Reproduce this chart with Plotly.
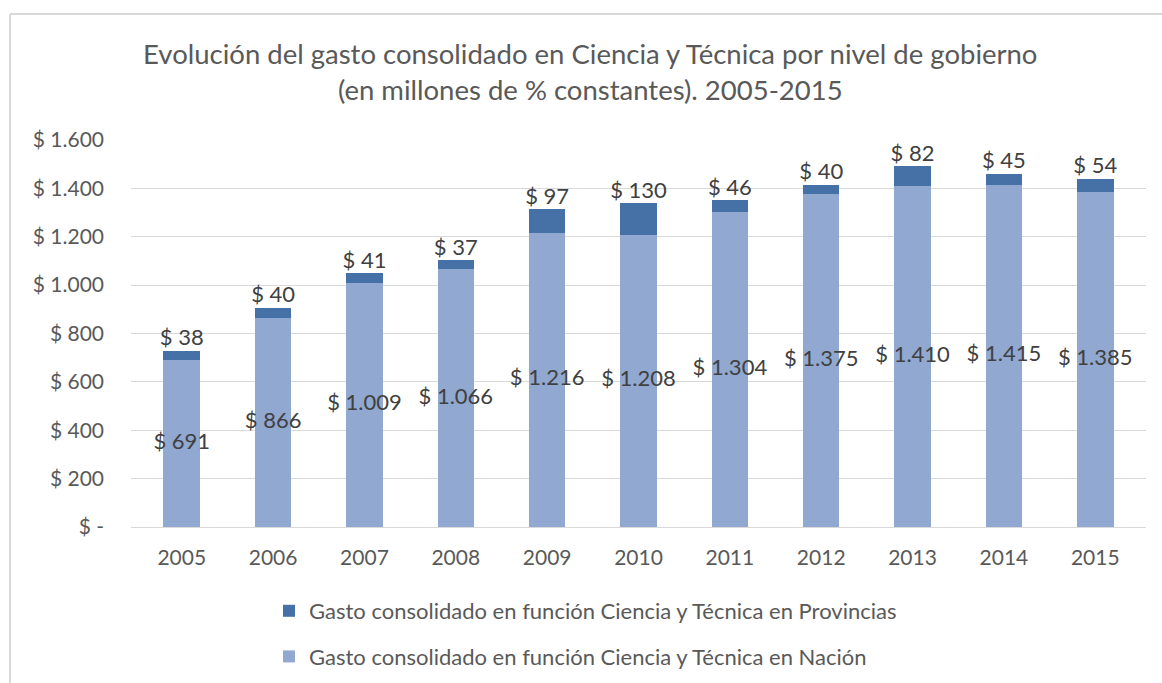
import plotly.graph_objects as go

years = ["2005", "2006", "2007", "2008", "2009", "2010", "2011", "2012", "2013", "2014", "2015"]
nacion = [691, 866, 1009, 1066, 1216, 1208, 1304, 1375, 1410, 1415, 1385]
provincias = [38, 40, 41, 37, 97, 130, 46, 40, 82, 45, 54]
y_tickvals = [0, 200, 400, 600, 800, 1000, 1200, 1400, 1600]
y_ticktext = ["$ -", "$ 200", "$ 400", "$ 600", "$ 800", "$ 1.000", "$ 1.200", "$ 1.400", "$ 1.600"]

name_prov = "Gasto consolidado en función Ciencia y Técnica en Provincias"
name_nac = "Gasto consolidado en función Ciencia y Técnica en Nación"

def fmt(v):
    return "$ " + f"{v:,}".replace(",", ".")

FONT = "Lato"
C_NAC = "#91A8D1"
C_PROV = "#4571A6"

totals = [a + b for a, b in zip(nacion, provincias)]

fig = go.Figure()
fig.add_trace(go.Bar(x=years, y=nacion, name=name_nac, marker=dict(color=C_NAC, line=dict(width=0)),
                     legendgroup="n", legendrank=2, hoverinfo="y"))
fig.add_trace(go.Bar(x=years, y=provincias, name=name_prov, marker=dict(color=C_PROV, line=dict(width=0)),
                     legendgroup="p", legendrank=1, hoverinfo="y"))
fig.add_trace(go.Scatter(x=years, y=[v / 2 for v in nacion], mode="text",
                         text=[fmt(v) for v in nacion], textposition="middle center",
                         textfont=dict(family=FONT, size=22, color="#404040"),
                         showlegend=False, cliponaxis=False, hoverinfo="skip"))
fig.add_trace(go.Scatter(x=years, y=totals, mode="text",
                         text=[fmt(v) for v in provincias], textposition="top center",
                         textfont=dict(family=FONT, size=22, color="#404040"),
                         showlegend=False, cliponaxis=False, hoverinfo="skip"))

L, R, T, B = 131, 16, 140, 156
W, H = 1162, 683
pw = W - L - R
ph = H - T - B

def px(x):
    return (x - L) / pw

def py(y):
    return (H - B - y) / ph

fig.update_layout(
    width=W, height=H,
    margin=dict(l=L, r=R, t=T, b=B, pad=0, autoexpand=False),
    paper_bgcolor="white", plot_bgcolor="white",
    barmode="stack", bargap=0.6,
    font=dict(family=FONT, color="#595959", size=20),
    title=dict(text="Evolución del gasto consolidado en Ciencia y Técnica por nivel de gobierno<br>(en millones de % constantes). 2005-2015",
               x=0.508, xanchor="center", xref="container", y=1 - 64 / H, yanchor="middle", yref="container",
               font=dict(family=FONT, size=27.5, color="#595959")),
    xaxis=dict(type="category", showgrid=False, showline=False, ticks="", automargin=False,
               tickfont=dict(family=FONT, size=21, color="#595959"), ticklabelstandoff=16),
    yaxis=dict(range=[0, 1600], tickvals=y_tickvals, ticktext=y_ticktext, showgrid=True, automargin=False,
               gridcolor="#D9D9D9", gridwidth=1, zeroline=True, zerolinecolor="#D9D9D9", zerolinewidth=1,
               showline=False, ticks="", tickfont=dict(family=FONT, size=21, color="#595959"),
               ticklabelstandoff=26),
    legend=dict(orientation="v", x=px(269), xanchor="left", y=py(590), yanchor="top",
                traceorder="grouped", tracegroupgap=14,
                font=dict(family=FONT, size=22, color="#595959"), itemwidth=30,
                bgcolor="rgba(0,0,0,0)"),
    shapes=[
        dict(type="line", xref="paper", yref="paper", x0=px(10), x1=px(1162), y0=py(14), y1=py(14),
             line=dict(color="#D9D9D9", width=2)),
        dict(type="line", xref="paper", yref="paper", x0=px(10), x1=px(10), y0=py(14), y1=py(683),
             line=dict(color="#D9D9D9", width=2)),
    ],
)

fig.write_html("out.html", config={"displayModeBar": False},
               post_script="document.body.style.margin='0';document.body.style.padding='0';")
